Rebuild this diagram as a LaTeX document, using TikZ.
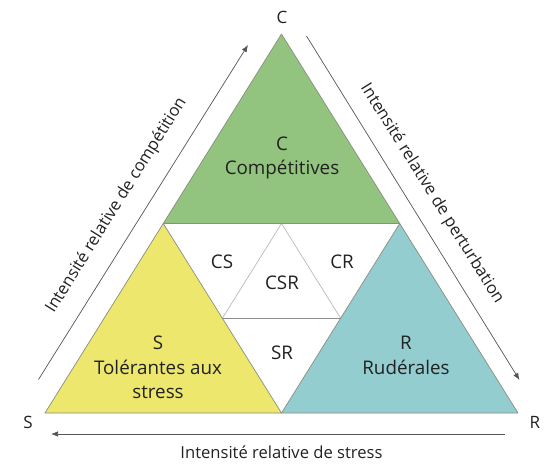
\documentclass[tikz,border=0pt]{standalone}
\usepackage{fontspec}
\setmainfont{Open Sans}
\usetikzlibrary{arrows.meta,calc}
\definecolor{gfill}{HTML}{93C47F}
\definecolor{yfill}{HTML}{EDE76D}
\definecolor{bfill}{HTML}{93CDCF}
\definecolor{edgec}{HTML}{8A8E80}
\definecolor{txt}{HTML}{222222}
\definecolor{axc}{HTML}{555555}
\tikzset{
  x=1pt,y=-1pt,
  region/.style={draw=edgec,line width=0.7pt,line join=round},
  inner/.style={draw=black!30,line width=0.6pt},
  innerbase/.style={draw=black!45,line width=0.7pt},
  bigtxt/.style={text=txt,align=center,inner sep=0pt,font=\fontsize{18.8}{24.5}\selectfont},
  axtxt/.style={text=txt,inner sep=0pt,font=\fontsize{16.6}{20}\selectfont},
  cornertxt/.style={text=txt,inner sep=0pt,font=\fontsize{17}{20}\selectfont},
  axarrow/.style={draw=axc,line width=0.7pt,-{Latex[length=7pt,width=5.5pt]}},
}
\begin{document}
\begin{tikzpicture}
\fill[white] (0,0) rectangle (550,475);
\useasboundingbox (0,0) rectangle (550,475);
% main vertices
\coordinate (C) at (281.5,34);
\coordinate (S) at (45,413);
\coordinate (R) at (518,413);
\coordinate (mCS) at ($(C)!0.5!(S)$);
\coordinate (mCR) at ($(C)!0.5!(R)$);
\coordinate (mSR) at ($(S)!0.5!(R)$);
\coordinate (iL) at ($(mCS)!0.5!(mSR)$);
\coordinate (iR) at ($(mCR)!0.5!(mSR)$);
\coordinate (iT) at ($(mCS)!0.5!(mCR)$);
% inner CSR triangle
\draw[inner] (iL) -- (iT) -- (iR);
\draw[innerbase] (iL) -- (iR);
% coloured regions
\filldraw[region,fill=gfill] (C) -- (mCS) -- (mCR) -- cycle;
\filldraw[region,fill=yfill] (mCS) -- (S) -- (mSR) -- cycle;
\filldraw[region,fill=bfill] (mCR) -- (mSR) -- (R) -- cycle;
% axis arrows
\coordinate (la1) at (38.5,379.5);
\coordinate (la2) at (248,45);
\coordinate (ra1) at (306.5,36);
\coordinate (ra2) at (519.5,380);
\coordinate (ba1) at (505,434);
\coordinate (ba2) at (51,434);
\draw[axarrow] (la1) -- (la2);
\draw[axarrow] (ra1) -- (ra2);
\draw[axarrow] (ba1) -- (ba2);
% axis labels
\node[axtxt,anchor=base,rotate=58] (lcomp) at (120.2,207.6) {Intensité relative de compétition};
\node[axtxt,anchor=base,rotate=-58] (lpert) at (428.2,195.9) {Intensité relative de perturbation};
\node[axtxt] (lstress) at (281.5,452) {Intensité relative de stress};
% corner labels
\node[cornertxt] (tC) at (282,17) {C};
\node[cornertxt] (tS) at (28,422) {S};
\node[cornertxt] (tR) at (535,422) {R};
% region labels
\node[bigtxt] (nC) at (282,158) {C\\Compétitives};
\node[bigtxt] (nS) at (158,367.5) {S\\Tolérantes aux\\stress};
\node[bigtxt] (nR) at (406,355.5) {R\\Rudérales};
\node[bigtxt] (nCS) at (222,262) {CS};
\node[bigtxt] (nCR) at (342,262) {CR};
\node[bigtxt] (nCSR) at (282,283) {CSR};
\node[bigtxt] (nSR) at (282,353) {SR};
\end{tikzpicture}
\end{document}
